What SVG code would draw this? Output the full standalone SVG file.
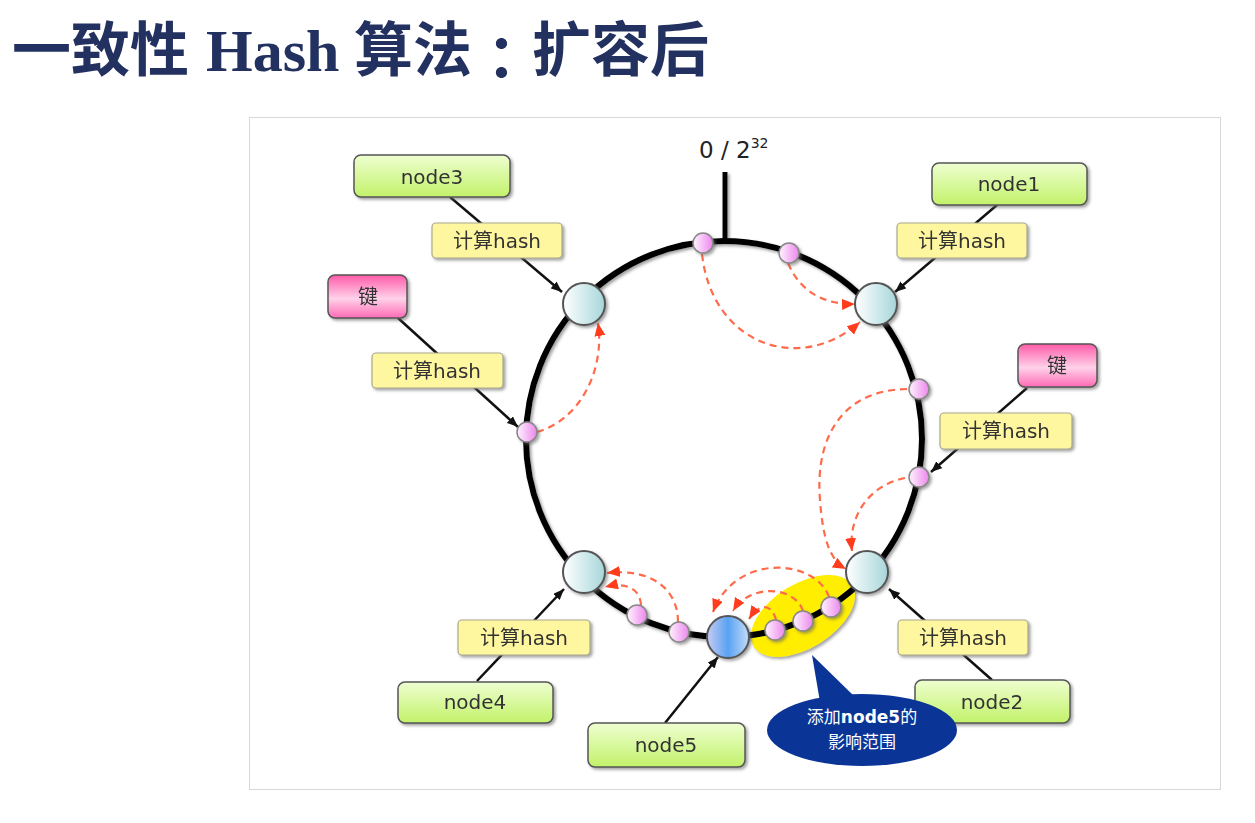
<svg xmlns="http://www.w3.org/2000/svg" width="1255" height="823" viewBox="0 0 1255 823">
  <style>
    .title { font-family: "Noto Sans CJK SC", "Liberation Sans", sans-serif; font-weight: 700; font-size: 59px; fill: #22315f; }
    .title-latin { font-family: "Liberation Serif", serif; font-weight: 700; font-size: 60px; }
    .lbl { font-family: "DejaVu Sans", "Noto Sans CJK SC", sans-serif; font-size: 20px; fill: #333; text-anchor: middle; }
    .green { fill: url(#gGreen); stroke: #555; stroke-width: 1.5; }
    .pink { fill: url(#gPink); stroke: #555; stroke-width: 1.5; }
    .yellow { fill: #fff7a0; stroke: #a8a890; stroke-width: 1.2; }
    .conn { stroke: #111; stroke-width: 2.5; fill: none; marker-end: url(#arrowBlack); }
    .move { stroke: #ff6a4a; stroke-width: 2.2; stroke-dasharray: 7 5; fill: none; marker-end: url(#arrowRed); }
    .srv { fill: url(#gNode); stroke: #555; stroke-width: 2; }
    .key { fill: url(#gKey); stroke: #888; stroke-width: 1.5; }
    .note { font-family: "Noto Sans CJK SC", "DejaVu Sans", sans-serif; font-size: 17px; fill: #fff; text-anchor: middle; }
  </style>
  <defs>
    <linearGradient id="gGreen" x1="0" y1="0" x2="0" y2="1">
      <stop offset="0" stop-color="#eefed0"/>
      <stop offset="1" stop-color="#c2f26a"/>
    </linearGradient>
    <linearGradient id="gPink" x1="0" y1="0" x2="0" y2="1">
      <stop offset="0" stop-color="#ff5aa8"/>
      <stop offset="0.55" stop-color="#ffd2ea"/>
      <stop offset="1" stop-color="#ff6ab4"/>
    </linearGradient>
    <linearGradient id="gNode" x1="0" y1="0" x2="1" y2="0">
      <stop offset="0" stop-color="#ffffff"/>
      <stop offset="1" stop-color="#a6d6da"/>
    </linearGradient>
    <linearGradient id="gNode5" x1="0" y1="0" x2="1" y2="0">
      <stop offset="0" stop-color="#c8ccf2"/>
      <stop offset="0.5" stop-color="#5aa2f4"/>
      <stop offset="1" stop-color="#c4dcf8"/>
    </linearGradient>
    <linearGradient id="gKey" x1="0" y1="0" x2="1" y2="0">
      <stop offset="0" stop-color="#fff4ff"/>
      <stop offset="1" stop-color="#ec86ec"/>
    </linearGradient>
    <filter id="shadow" x="-20%" y="-20%" width="140%" height="150%">
      <feDropShadow dx="2" dy="2" stdDeviation="1.5" flood-color="#666" flood-opacity="0.6"/>
    </filter>
    <marker id="arrowBlack" markerUnits="userSpaceOnUse" markerWidth="12" markerHeight="10" refX="11" refY="4.5" orient="auto">
      <path d="M0,0 L11,4.5 L0,9 z" fill="#111"/>
    </marker>
    <marker id="arrowRed" markerUnits="userSpaceOnUse" markerWidth="14" markerHeight="12" refX="13" refY="5.5" orient="auto">
      <path d="M0,0 L13,5.5 L0,11 z" fill="#ff3c1c"/>
    </marker>
  </defs>

  <rect width="1255" height="823" fill="#fff"/>

  <!-- heading -->
  <text class="title" y="71">
    <tspan x="12">一致性</tspan><tspan x="206" class="title-latin">Hash</tspan><tspan x="354">算法</tspan><tspan x="472" y="80" font-family="Noto Sans CJK JP, Noto Sans CJK SC, sans-serif">：</tspan><tspan x="532" y="71">扩容后</tspan>
  </text>

  <!-- panel -->
  <rect x="249.5" y="117.5" width="971" height="672" fill="#fff" stroke="#d8d8d8" stroke-width="1"/>

  <!-- hash ring -->
  <g id="ring" filter="url(#shadow)">
    <ellipse cx="803" cy="616" rx="58" ry="32" transform="rotate(-32 803 616)" fill="#ffee00"/>
    <circle cx="724" cy="439" r="198" fill="none" stroke="#000" stroke-width="6"/>
    <line x1="725" y1="172" x2="725" y2="242" stroke="#000" stroke-width="5"/>
  </g>
  <text x="699" y="158" font-family="DejaVu Sans, sans-serif" font-size="23" fill="#222">0 / 2<tspan font-size="14" dy="-10">32</tspan></text>

  <!-- connectors -->
  <g id="connectors">
    <line class="conn" x1="450" y1="197" x2="562" y2="292"/>
    <line class="conn" x1="997" y1="205" x2="895" y2="292"/>
    <line class="conn" x1="398" y1="318" x2="518" y2="427"/>
    <line class="conn" x1="1027" y1="388" x2="931" y2="472"/>
    <line class="conn" x1="477" y1="681" x2="564" y2="589"/>
    <line class="conn" x1="992" y1="680" x2="889" y2="589"/>
    <line class="conn" x1="665" y1="723" x2="718" y2="657"/>
    <!-- key relocation paths -->
    <path class="move" d="M702,254 C712,345 800,375 860,322"/>
    <path class="move" d="M788,263 C800,292 825,305 855,304"/>
    <path class="move" d="M537,432 C580,420 605,370 598,323"/>
    <path class="move" d="M907,389 C840,390 815,440 820,500 C823,540 830,560 846,569"/>
    <path class="move" d="M905,478 C870,485 848,515 852,551"/>
    <path class="move" d="M678,622 C678,588 650,568 607,573"/>
    <path class="move" d="M641,605 C640,588 625,582 605,587"/>
    <path class="move" d="M829,597 C815,558 735,553 713,612"/>
    <path class="move" d="M803,611 C795,586 750,583 733,611"/>
    <path class="move" d="M776,620 C772,604 760,602 749,619"/>
  </g>

  <!-- hashed keys on the ring -->
  <g id="keys" filter="url(#shadow)">
    <circle class="key" cx="703" cy="243" r="10"/>
    <circle class="key" cx="789" cy="253" r="10"/>
    <circle class="key" cx="527" cy="432" r="10"/>
    <circle class="key" cx="919" cy="389" r="10"/>
    <circle class="key" cx="919" cy="477" r="10"/>
    <circle class="key" cx="637" cy="615" r="10"/>
    <circle class="key" cx="679" cy="632" r="10"/>
    <circle class="key" cx="775" cy="630" r="10"/>
    <circle class="key" cx="803" cy="621" r="10"/>
    <circle class="key" cx="831" cy="607" r="10"/>
  </g>

  <!-- servers on the ring -->
  <g id="ring-node3" filter="url(#shadow)"><circle class="srv" cx="584" cy="304" r="21"/></g>
  <g id="ring-node1" filter="url(#shadow)"><circle class="srv" cx="876" cy="304" r="21"/></g>
  <g id="ring-node4" filter="url(#shadow)"><circle class="srv" cx="584" cy="572" r="21"/></g>
  <g id="ring-node2" filter="url(#shadow)"><circle class="srv" cx="867" cy="572" r="21"/></g>
  <g id="ring-node5" filter="url(#shadow)"><circle cx="728" cy="637" r="21" fill="url(#gNode5)" stroke="#555" stroke-width="2"/></g>

  <!-- server labels -->
  <g id="node3" filter="url(#shadow)">
    <rect class="green" x="354" y="155" width="156" height="42" rx="7"/>
    <text class="lbl" x="432" y="184">node3</text>
  </g>
  <g id="node1" filter="url(#shadow)">
    <rect class="green" x="932" y="163" width="155" height="42" rx="7"/>
    <text class="lbl" x="1009" y="191">node1</text>
  </g>
  <g id="node4" filter="url(#shadow)">
    <rect class="green" x="398" y="682" width="155" height="41" rx="7"/>
    <text class="lbl" x="475" y="709">node4</text>
  </g>
  <g id="node2" filter="url(#shadow)">
    <rect class="green" x="915" y="680" width="155" height="43" rx="7"/>
    <text class="lbl" x="992" y="709">node2</text>
  </g>
  <g id="node5" filter="url(#shadow)">
    <rect class="green" x="588" y="723" width="157" height="44" rx="7"/>
    <text class="lbl" x="666" y="752">node5</text>
  </g>

  <!-- key labels -->
  <g id="key-left" filter="url(#shadow)">
    <rect class="pink" x="328" y="275" width="79" height="43" rx="7"/>
    <text class="lbl" x="368" y="304">键</text>
  </g>
  <g id="key-right" filter="url(#shadow)">
    <rect class="pink" x="1018" y="344" width="79" height="43" rx="7"/>
    <text class="lbl" x="1057" y="373">键</text>
  </g>

  <!-- hash step labels -->
  <g id="hash-node3" filter="url(#shadow)">
    <rect class="yellow" x="432" y="223" width="130" height="35" rx="4"/>
    <text class="lbl" x="497" y="248">计算hash</text>
  </g>
  <g id="hash-node1" filter="url(#shadow)">
    <rect class="yellow" x="897" y="223" width="130" height="35" rx="4"/>
    <text class="lbl" x="962" y="248">计算hash</text>
  </g>
  <g id="hash-key-left" filter="url(#shadow)">
    <rect class="yellow" x="372" y="353" width="131" height="35" rx="4"/>
    <text class="lbl" x="437" y="378">计算hash</text>
  </g>
  <g id="hash-key-right" filter="url(#shadow)">
    <rect class="yellow" x="940" y="413" width="132" height="36" rx="4"/>
    <text class="lbl" x="1006" y="438">计算hash</text>
  </g>
  <g id="hash-node4" filter="url(#shadow)">
    <rect class="yellow" x="458" y="620" width="132" height="35" rx="4"/>
    <text class="lbl" x="524" y="645">计算hash</text>
  </g>
  <g id="hash-node2" filter="url(#shadow)">
    <rect class="yellow" x="898" y="620" width="130" height="35" rx="4"/>
    <text class="lbl" x="963" y="645">计算hash</text>
  </g>

  <!-- callout -->
  <g id="callout">
    <path d="M812,655 L856,698 L820,702 Z" fill="#0a3596"/>
    <ellipse cx="862" cy="730" rx="95" ry="36" fill="#0a3596"/>
    <text class="note" x="862" y="723">添加<tspan font-family="DejaVu Sans, sans-serif" font-weight="700">node5</tspan>的</text>
    <text class="note" x="862" y="748">影响范围</text>
  </g>
</svg>
